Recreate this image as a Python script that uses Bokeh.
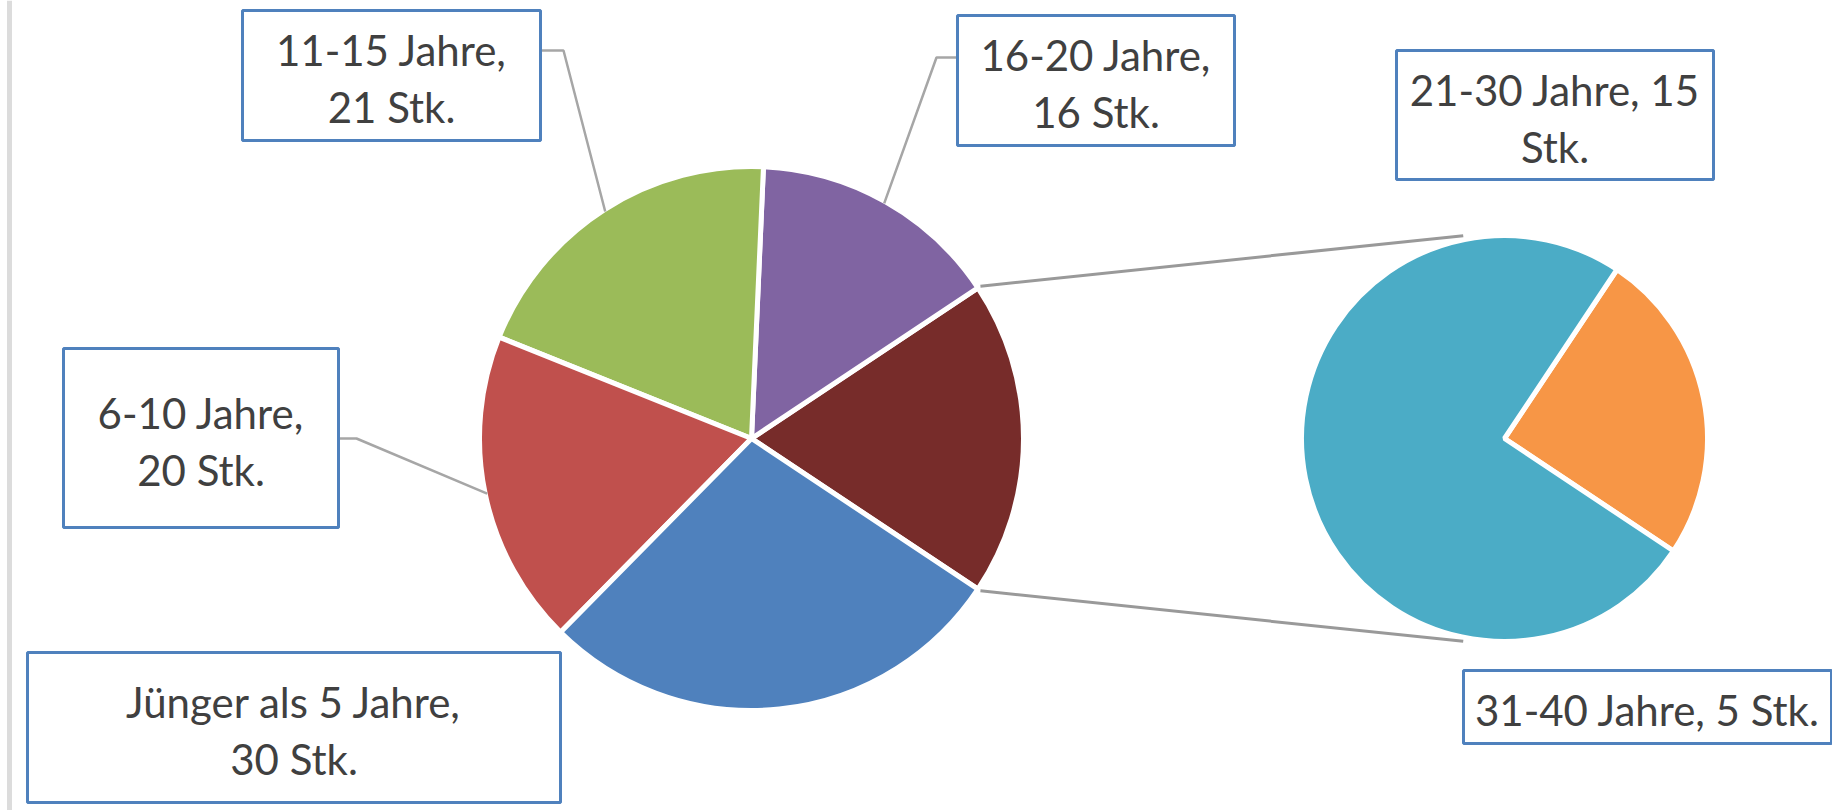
import math
from bokeh.plotting import figure
from bokeh.models import Range1d
from bokeh.core.properties import value
from bokeh.embed import file_html
from bokeh.resources import INLINE

# ---------------- data ----------------
main_categories = ["Jünger als 5 Jahre", "6-10 Jahre", "11-15 Jahre", "16-20 Jahre"]
main_values = [30, 20, 21, 16]
main_colors = ["#4f81bd", "#c0504d", "#9bbb59", "#8064a2"]

sub_categories = ["21-30 Jahre", "31-40 Jahre"]
sub_values = [15, 5]
sub_colors = ["#4bacc6", "#f79646"]
other_color = "#772c2a"

# label wrapping style: 0 -> "cat,\nN Stk."  1 -> "cat, N\nStk."  2 -> one line
main_wrap = [0, 0, 0, 0]
sub_wrap = [1, 2]

# ---------------- layout (pixels, y measured from top) ----------------
W, H = 1832, 810
MAIN_CX, MAIN_CY, MAIN_R = 751, 438, 272
SUB_CX, SUB_CY, SUB_R = 1504, 438, 203

# label boxes: left, top, right, bottom
main_boxes = [(27, 652, 560, 802), (63, 348, 338, 527), (242, 10, 540, 140), (957, 15, 1234, 145)]
sub_boxes = [(1396, 50, 1713, 179), (1463, 670, 1831, 743)]
# leader (box edge x, elbow x, y) for labels that have a leader line
main_leaders = [None, (338, 356, 438), (540, 563, 50), (957, 936, 57)]

FONT = "Lato"
FONT_SIZE = "42px"
LINE_GAP = 57


def Y(ypix):
    return H - ypix


def label_lines(cat, val, style):
    if style == 0:
        return [f"{cat},", f"{val} Stk."]
    if style == 1:
        return [f"{cat}, {val}", "Stk."]
    return [f"{cat}, {val} Stk."]


p = figure(width=W, height=H, x_range=Range1d(0, W), y_range=Range1d(0, H),
           output_backend="svg", toolbar_location=None, min_border=0,
           background_fill_color="white", border_fill_color="white")
p.axis.visible = False
p.grid.visible = False
p.outline_line_color = None

# left chart-area edge
p.segment(x0=[9], y0=[0], x1=[9], y1=[H], line_color="#dcdcdc", line_width=5)

total = sum(main_values) + sum(sub_values)
other = sum(sub_values)
half = math.pi * other / total

# ---------------- main pie ----------------
starts, ends, cols, mids = [], [], [], {}
starts.append(-half); ends.append(half); cols.append(other_color)
a = half
for i in reversed(range(len(main_values))):
    e = a + 2 * math.pi * main_values[i] / total
    starts.append(a); ends.append(e); cols.append(main_colors[i])
    mids[i] = (a + e) / 2
    a = e
p.wedge(x=[MAIN_CX] * len(starts), y=[Y(MAIN_CY)] * len(starts), radius=MAIN_R,
        start_angle=starts, end_angle=ends, fill_color=cols,
        line_color="white", line_width=5)

# ---------------- secondary pie ----------------
s_starts, s_ends, s_cols = [], [], []
a = -half
for i in reversed(range(len(sub_values))):
    e = a + 2 * math.pi * sub_values[i] / other
    s_starts.append(a); s_ends.append(e); s_cols.append(sub_colors[i])
    a = e
p.wedge(x=[SUB_CX] * len(s_starts), y=[Y(SUB_CY)] * len(s_starts), radius=SUB_R,
        start_angle=s_starts, end_angle=s_ends, fill_color=s_cols,
        line_color="white", line_width=5)

# ---------------- connector lines ----------------
conn_ang = math.radians(101.5)
cx0, cy0, cx1, cy1 = [], [], [], []
for sgn in (1, -1):
    cx0.append(MAIN_CX + (MAIN_R + 3) * math.cos(sgn * half))
    cy0.append(Y(MAIN_CY) + (MAIN_R + 3) * math.sin(sgn * half))
    cx1.append(SUB_CX + (SUB_R + 4) * math.cos(sgn * conn_ang))
    cy1.append(Y(SUB_CY) + (SUB_R + 4) * math.sin(sgn * conn_ang))
p.segment(x0=cx0, y0=cy0, x1=cx1, y1=cy1, line_color="#999999", line_width=3)

# ---------------- leader lines ----------------
for i, ld in enumerate(main_leaders):
    if ld is None:
        continue
    bx, ex, ly = ld
    ang = mids[i]
    px = MAIN_CX + (MAIN_R - 2) * math.cos(ang)
    py = Y(MAIN_CY) + (MAIN_R - 2) * math.sin(ang)
    p.line(x=[bx, ex, px], y=[Y(ly), Y(ly), py], line_color="#a6a6a6", line_width=2.5)

# ---------------- label boxes & text ----------------
boxes = main_boxes + sub_boxes
texts = [label_lines(c, v, w) for c, v, w in zip(main_categories, main_values, main_wrap)] + \
        [label_lines(c, v, w) for c, v, w in zip(sub_categories, sub_values, sub_wrap)]

p.quad(left=[b[0] for b in boxes], right=[b[2] for b in boxes],
       top=[Y(b[1]) for b in boxes], bottom=[Y(b[3]) for b in boxes],
       fill_color="white", line_color="#4f81bd", line_width=3)

tx, ty, tt = [], [], []
for b, lines in zip(boxes, texts):
    cx = (b[0] + b[2]) / 2
    cy = (b[1] + b[3]) / 2 + 3
    n = len(lines)
    for k, ln in enumerate(lines):
        tx.append(cx)
        ty.append(Y(cy + (k - (n - 1) / 2) * LINE_GAP))
        tt.append(ln)
p.text(x=tx, y=ty, text=tt, text_font=value(FONT), text_font_size=FONT_SIZE,
       text_color="#404040", text_align="center", text_baseline="middle")

open("out.html", "w").write(file_html(p, INLINE))
